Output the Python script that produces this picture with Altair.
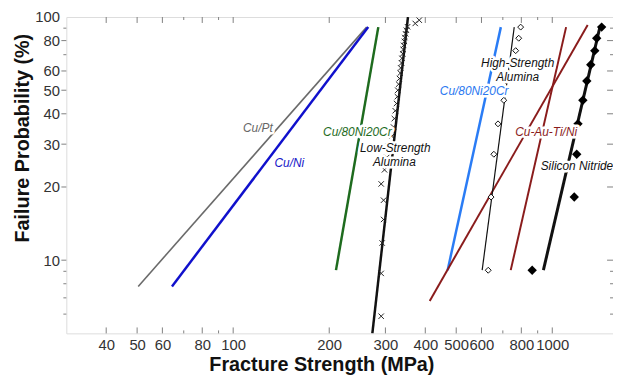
import altair as alt
import pandas as pd

# ---------------- data ----------------
x_tick_values = [40, 50, 60, 70, 80, 90, 100, 200, 300, 400, 500, 600, 700, 800, 900, 1000]
x_label_values = [40, 50, 60, 80, 100, 200, 300, 400, 500, 600, 800, 1000]
y_tick_values = [6, 7, 8, 9, 10, 20, 30, 40, 50, 60, 70, 80, 90]
y_label_values = [10, 20, 30, 40, 50, 60, 80, 100]

# fitted lines (strength MPa, failure probability %)
cu_pt_strength = [50.4, 262]
cu_pt_prob = [7.8, 90.9]
cu_ni_strength = [64.3, 265]
cu_ni_prob = [7.8, 90.9]
cu_nicr_a_strength = [210, 285]
cu_nicr_a_prob = [9.1, 90.9]
cu_nicr_b_strength = [470, 690]
cu_nicr_b_prob = [9.1, 90.9]
cuauti_a_strength = [741, 1105]
cuauti_a_prob = [9.1, 90.9]
cuauti_b_strength = [413, 1291]
cuauti_b_prob = [6.8, 92.8]
ls_alumina_fit_strength = [273, 353]
ls_alumina_fit_prob = [5, 100]
hs_alumina_fit_strength = [603, 760]
hs_alumina_fit_prob = [9.1, 90.9]
si3n4_fit_strength = [938, 1410]
si3n4_fit_prob = [9.1, 90.9]

# measured points
ls_alumina_rank = list(range(2, 34))
ls_alumina_strength = [291, 291, 293, 296, 296, 291, 298, 303, 306, 314, 318, 320,
                       322, 325, 327, 328, 330, 332, 334, 335, 337, 338,
                       340, 341, 342, 344, 345, 347, 349, 352, 372, 383]
ls_alumina_n = 33
hs_alumina_rank = list(range(1, 11))
hs_alumina_strength = [630, 643, 656, 676, 705, 716, 735, 768, 785, 796]
si3n4_rank = list(range(1, 11))
si3n4_strength = [865, 1172, 1193, 1204, 1247, 1283, 1320, 1359, 1378, 1428]
ten_n = 10

# annotations
label_texts = ["Cu/Pt", "Cu/Ni", "Cu/80Ni20Cr", "Low-Strength", "Alumina",
               "High-Strength", "Alumina", "Cu/80Ni20Cr", "Cu-Au-Ti/Ni", "Silicon Nitride"]
label_strength = [119.5, 150, 245, 322, 320, 779, 779, 569, 957, 1195]
label_prob = [34.9, 25.2, 33.6, 28.9, 25.4, 64.5, 56.6, 49.7, 33.6, 24.5]

# ---------------- styling ----------------
FONT = "Liberation Sans"
FRAME = "#808080"
W, H = 553, 320
label_colors = ["#666666", "#1515c8", "#1e6b1e", "#111111", "#111111",
                "#111111", "#111111", "#2a78f0", "#8a1c1c", "#111111"]

xs = alt.Scale(type="log", domain=[30, 1550], nice=False)
ys = alt.Scale(type="log", domain=[5, 100], nice=False)

X = alt.X("s:Q", scale=xs, axis=alt.Axis(
    values=x_label_values, ticks=False, tickSize=0, domain=False, grid=False,
    labelFont=FONT, labelFontSize=15, labelColor="#333333", labelPadding=4,
    labelOverlap=False, labelFlush=False, format="d",
    title="Fracture Strength (MPa)", titleFont=FONT, titleFontSize=20,
    titleFontWeight="bold", titleColor="#111111", titleX=258, titleY=22,
    titleBaseline="top"))
Y = alt.Y("p:Q", scale=ys, axis=alt.Axis(
    values=y_label_values, ticks=False, tickSize=0, domain=False, grid=False,
    labelFont=FONT, labelFontSize=15, labelColor="#333333", labelPadding=7,
    labelOverlap=False, labelFlush=False, format="d",
    title="Failure Probability (%)", titleFont=FONT, titleFontSize=20,
    titleFontWeight="bold", titleColor="#111111", titleX=-34, titleY=122))


def line_layer(s, p, color, width):
    df = pd.DataFrame({"s": s, "p": p})
    return alt.Chart(df).mark_line(color=color, strokeWidth=width, clip=True).encode(x=X, y=Y)


def label_layer(text, s, p, color):
    df = pd.DataFrame({"s": [s], "p": [p], "t": [text]})
    base = alt.Chart(df).encode(x=X, y=Y, text="t:N")
    halo = base.mark_text(font=FONT, fontSize=12, fontStyle="italic", align="center",
                          baseline="middle", fill="white", stroke="white",
                          strokeWidth=5, strokeJoin="round")
    fg = base.mark_text(font=FONT, fontSize=12, fontStyle="italic", align="center",
                        baseline="middle", color=color)
    return [halo, fg]


layers = [
    line_layer(cu_pt_strength, cu_pt_prob, "#6a6a6a", 1.6),
    line_layer(cu_ni_strength, cu_ni_prob, "#1010cc", 2.5),
    line_layer(cu_nicr_a_strength, cu_nicr_a_prob, "#1e6b1e", 2.5),
    line_layer(cu_nicr_b_strength, cu_nicr_b_prob, "#2a7cf5", 2.5),
    line_layer(cuauti_a_strength, cuauti_a_prob, "#8a1c1c", 2),
    line_layer(cuauti_b_strength, cuauti_b_prob, "#8a1c1c", 2),
    line_layer(ls_alumina_fit_strength, ls_alumina_fit_prob, "#111111", 2.5),
    line_layer(hs_alumina_fit_strength, hs_alumina_fit_prob, "#111111", 1.2),
    line_layer(si3n4_fit_strength, si3n4_fit_prob, "#111111", 3),
]

ls_df = pd.DataFrame({"s": ls_alumina_strength,
                      "p": [100.0 * i / (ls_alumina_n + 1) for i in ls_alumina_rank]})
hs_df = pd.DataFrame({"s": hs_alumina_strength,
                      "p": [100.0 * i / (ten_n + 1) for i in hs_alumina_rank]})
si_df = pd.DataFrame({"s": si3n4_strength,
                      "p": [100.0 * i / (ten_n + 1) for i in si3n4_rank]})

layers.append(alt.Chart(ls_df).mark_point(shape="M-1,-1L1,1M-1,1L1,-1", filled=False,
                                          stroke="#222222", strokeWidth=1, size=30, opacity=1)
              .encode(x=X, y=Y))
layers.append(alt.Chart(hs_df).mark_point(shape="diamond", filled=True, fill="white",
                                          stroke="#111111", strokeWidth=1, size=36, opacity=1)
              .encode(x=X, y=Y))
layers.append(alt.Chart(si_df).mark_point(shape="diamond", filled=True, color="#000000",
                                          size=90, opacity=1)
              .encode(x=X, y=Y))

for t, s, p, c in zip(label_texts, label_strength, label_prob, label_colors):
    layers.extend(label_layer(t, s, p, c))

# tick marks
x_major = [v for v in x_tick_values if v in x_label_values]
x_minor = [v for v in x_tick_values if v not in x_label_values]
y_major = [v for v in y_tick_values if v in y_label_values]
y_minor = [v for v in y_tick_values if v not in y_label_values]


def xtick(vals, y0, y1):
    return alt.Chart(pd.DataFrame({"s": vals})).mark_rule(color=FRAME, strokeWidth=1).encode(
        x=X, y=alt.value(y0), y2=alt.value(y1))


def ytick(vals, x0, x1):
    return alt.Chart(pd.DataFrame({"p": vals})).mark_rule(color=FRAME, strokeWidth=1).encode(
        y=Y, x=alt.value(x0), x2=alt.value(x1))


layers += [
    xtick(x_major, H, H - 6), xtick(x_minor, H, H - 3),
    xtick(x_major, 0, 6), xtick(x_minor, 0, 3),
    ytick(y_major, 0, -5), ytick(y_minor, 0, -3),
    ytick(y_major, W, W - 6), ytick(y_minor, W, W - 3),
]

chart = alt.layer(*layers).properties(
    width=W, height=H,
    padding={"left": 59, "top": 7, "right": 0, "bottom": 43},
    autosize=alt.AutoSizeParams(type="none"),
).configure_view(stroke=FRAME, strokeWidth=1.5).configure(background="white")

chart.save("out.html", embed_options={"renderer": "svg", "actions": False})
